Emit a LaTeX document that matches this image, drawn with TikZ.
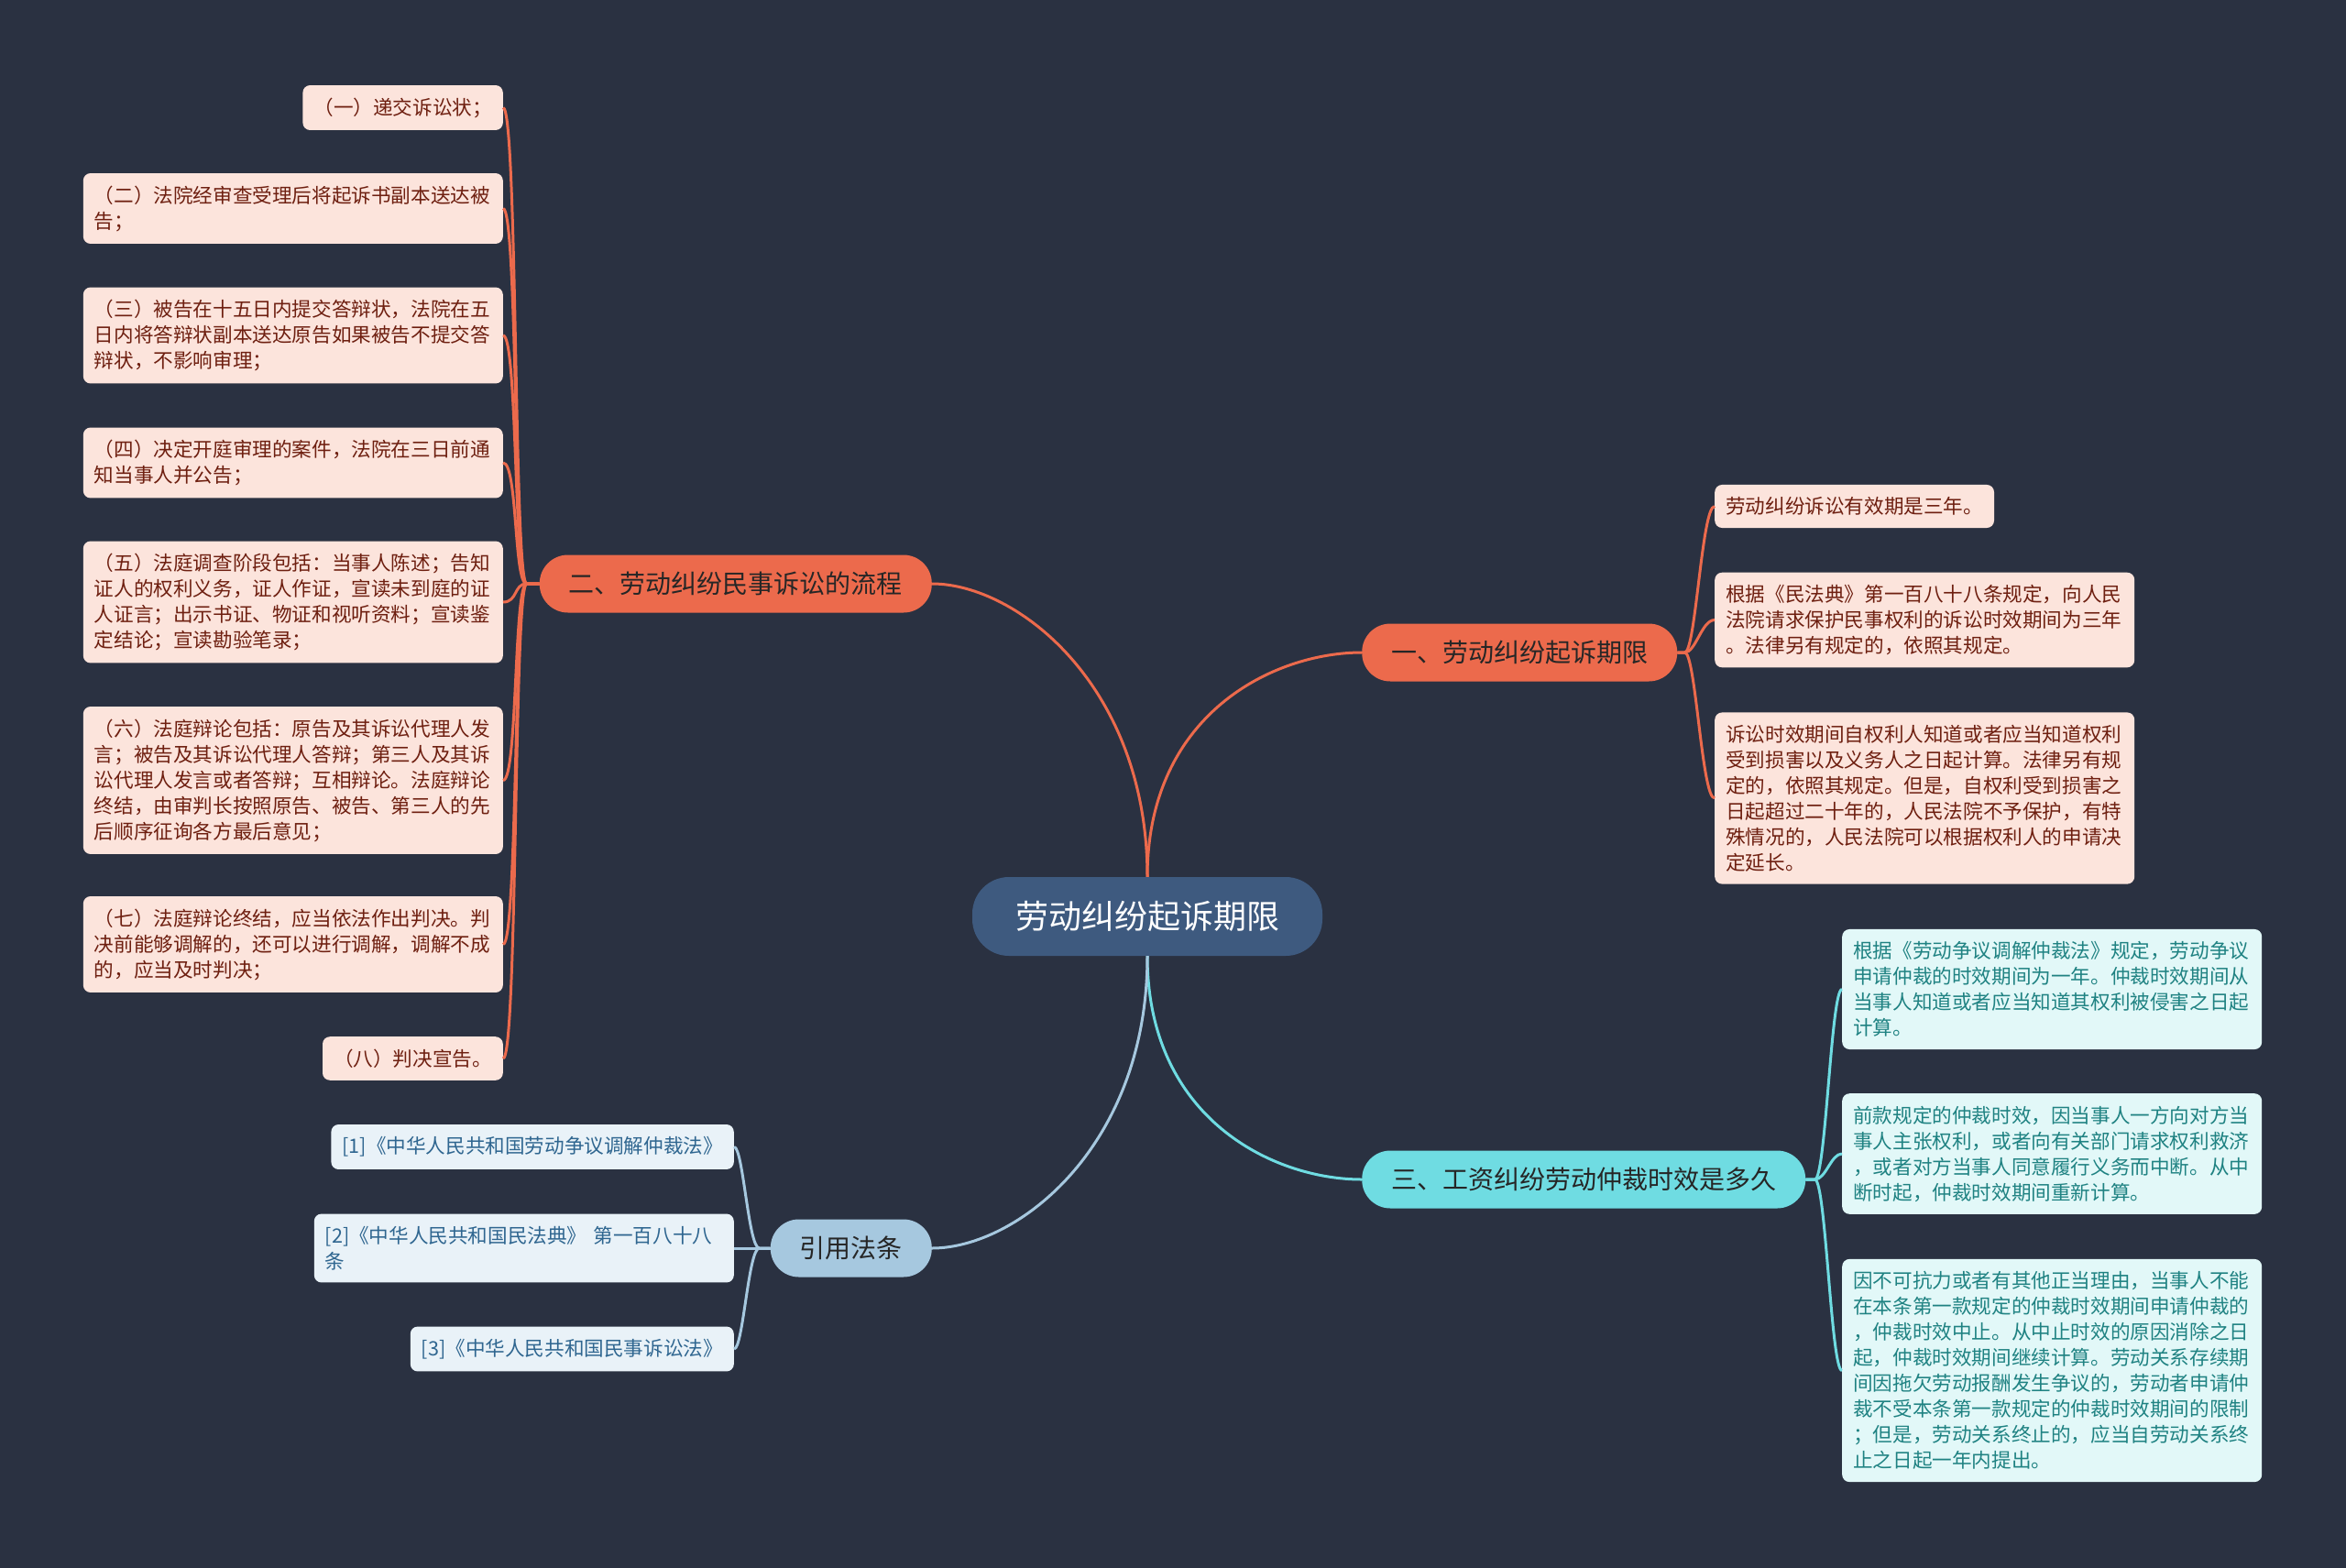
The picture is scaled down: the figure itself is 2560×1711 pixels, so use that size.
\documentclass[tikz,border=0pt]{standalone}
\usepackage{fontspec}
\setmainfont{Noto Sans CJK SC}
\definecolor{bg}{HTML}{2A3141}
\definecolor{rootfill}{HTML}{3E5A7F}
\definecolor{orangefill}{HTML}{EC6A4C}
\definecolor{orangeleaf}{HTML}{FCE4DC}
\definecolor{orangetext}{HTML}{6E1F10}
\definecolor{cyanfill}{HTML}{6FDCE2}
\definecolor{cyanleaf}{HTML}{E2F8F8}
\definecolor{cyantext}{HTML}{1F8282}
\definecolor{bluefill}{HTML}{A6C8DF}
\definecolor{blueleaf}{HTML}{E9F2F8}
\definecolor{bluetext}{HTML}{2F6690}

\begin{document}
\begin{tikzpicture}[x=1pt,y=-1pt]
	\tikzstyle{root} = [fill=rootfill,text=white,rounded corners=40pt,minimum height=86pt,inner xsep=47pt,inner ysep=0pt,font=\fontsize{36}{40}\selectfont]
	\tikzstyle{topic} = [rounded corners=31pt,minimum height=63pt,inner xsep=32pt,inner ysep=0pt,font=\fontsize{28}{30}\selectfont]
	\tikzstyle{leaf} = [rounded corners=8pt,inner xsep=12pt,inner ysep=13.5pt,align=left,font=\fontsize{21.6}{28}\selectfont]
	\tikzstyle{wide} = [text width=434pt]
	\tikzstyle{link} = [line width=3pt]
	\useasboundingbox (0,0) rectangle (2560,1711);
	\fill[bg] (0,0) rectangle (2560,1711);
	% center
	\node[root] (root) at (1252,1000) {劳动纠纷起诉期限};
	% branches
	\node[topic,fill=orangefill,text=black!85] (limit) at (1486,712) [anchor=west] {一、劳动纠纷起诉期限};
	\node[topic,fill=orangefill,text=black!85] (proc) at (1017,637) [anchor=east] {二、劳动纠纷民事诉讼的流程};
	\node[topic,fill=cyanfill,text=black!85] (wage) at (1486,1287) [anchor=west] {三、工资纠纷劳动仲裁时效是多久};
	\node[topic,fill=bluefill,text=black!85] (cite) at (1017,1362) [anchor=east] {引用法条};
	% process steps
	\tikzstyle{stepbox} = [leaf,fill=orangeleaf,text=orangetext,anchor=east]
	\node[stepbox] (step1) at (549,117.5) {（一）递交诉讼状；};
	\node[stepbox,wide] (step2) at (549,227.5) {（二）法院经审查受理后将起诉书副本送达被\\告；};
	\node[stepbox,wide] (step3) at (549,366) {（三）被告在十五日内提交答辩状，法院在五\\日内将答辩状副本送达原告如果被告不提交答\\辩状，不影响审理；};
	\node[stepbox,wide] (step4) at (549,505) {（四）决定开庭审理的案件，法院在三日前通\\知当事人并公告；};
	\node[stepbox,wide] (step5) at (549,657) {（五）法庭调查阶段包括：当事人陈述；告知\\证人的权利义务，证人作证，宣读未到庭的证\\人证言；出示书证、物证和视听资料；宣读鉴\\定结论；宣读勘验笔录；};
	\node[stepbox,wide] (step6) at (549,851.5) {（六）法庭辩论包括：原告及其诉讼代理人发\\言；被告及其诉讼代理人答辩；第三人及其诉\\讼代理人发言或者答辩；互相辩论。法庭辩论\\终结，由审判长按照原告、被告、第三人的先\\后顺序征询各方最后意见；};
	\node[stepbox,wide] (step7) at (549,1030.5) {（七）法庭辩论终结，应当依法作出判决。判\\决前能够调解的，还可以进行调解，调解不成\\的，应当及时判决；};
	\node[stepbox] (step8) at (549,1155) {（八）判决宣告。};
	% limitation notes
	\tikzstyle{notebox} = [leaf,fill=orangeleaf,text=orangetext,anchor=west]
	\node[notebox] (note1) at (1871,552.5) {劳动纠纷诉讼有效期是三年。};
	\node[notebox,wide] (note2) at (1871,676.5) {根据《民法典》第一百八十八条规定，向人民\\法院请求保护民事权利的诉讼时效期间为三年\\。法律另有规定的，依照其规定。};
	\node[notebox,wide] (note3) at (1871,871) {诉讼时效期间自权利人知道或者应当知道权利\\受到损害以及义务人之日起计算。法律另有规\\定的，依照其规定。但是，自权利受到损害之\\日起超过二十年的，人民法院不予保护，有特\\殊情况的，人民法院可以根据权利人的申请决\\定延长。};
	% arbitration notes
	\tikzstyle{arbbox} = [leaf,wide,fill=cyanleaf,text=cyantext,anchor=west]
	\node[arbbox] (arb1) at (2010,1079.5) {根据《劳动争议调解仲裁法》规定，劳动争议\\申请仲裁的时效期间为一年。仲裁时效期间从\\当事人知道或者应当知道其权利被侵害之日起\\计算。};
	\node[arbbox] (arb2) at (2010,1259) {前款规定的仲裁时效，因当事人一方向对方当\\事人主张权利，或者向有关部门请求权利救济\\，或者对方当事人同意履行义务而中断。从中\\断时起，仲裁时效期间重新计算。};
	\node[arbbox] (arb3) at (2010,1495.5) {因不可抗力或者有其他正当理由，当事人不能\\在本条第一款规定的仲裁时效期间申请仲裁的\\，仲裁时效中止。从中止时效的原因消除之日\\起，仲裁时效期间继续计算。劳动关系存续期\\间因拖欠劳动报酬发生争议的，劳动者申请仲\\裁不受本条第一款规定的仲裁时效期间的限制\\；但是，劳动关系终止的，应当自劳动关系终\\止之日起一年内提出。};
	% references
	\tikzstyle{refbox} = [leaf,fill=blueleaf,text=bluetext,anchor=east]
	\node[refbox] (ref1) at (801,1251.5) {[1]《中华人民共和国劳动争议调解仲裁法》};
	\node[refbox,wide] (ref2) at (801,1362) {[2]《中华人民共和国民法典》 第一百八十八\\条};
	\node[refbox] (ref3) at (801,1472) {[3]《中华人民共和国民事诉讼法》};
	% center -> branches
	\draw[link,orangefill] (root.north) .. controls +(0,-178) and +(-96,0) .. (limit.west);
	\draw[link,orangefill] (root.north) .. controls +(0,-208) and +(93,0) .. (proc.east);
	\draw[link,cyanfill] (root.south) .. controls +(0,178) and +(-96,0) .. (wage.west);
	\draw[link,bluefill] (root.south) .. controls +(0,208) and +(93,0) .. (cite.east);
	% branches -> leaves
	\foreach \i in {1,...,8}
		\draw[link,orangefill] (proc.west) -- ++(-14,0) .. controls +(-14,0) and +(16,0) .. (step\i.east);
	\foreach \i in {1,...,3}
		\draw[link,orangefill] (limit.east) -- ++(8,0) .. controls +(12,0) and +(-14,0) .. (note\i.west);
	\foreach \i in {1,...,3}
		\draw[link,cyanfill] (wage.east) -- ++(10,0) .. controls +(12,0) and +(-12,0) .. (arb\i.west);
	\foreach \i in {1,...,3}
		\draw[link,bluefill] (cite.west) -- ++(-12,0) .. controls +(-12,0) and +(10,0) .. (ref\i.east);
\end{tikzpicture}
\end{document}
